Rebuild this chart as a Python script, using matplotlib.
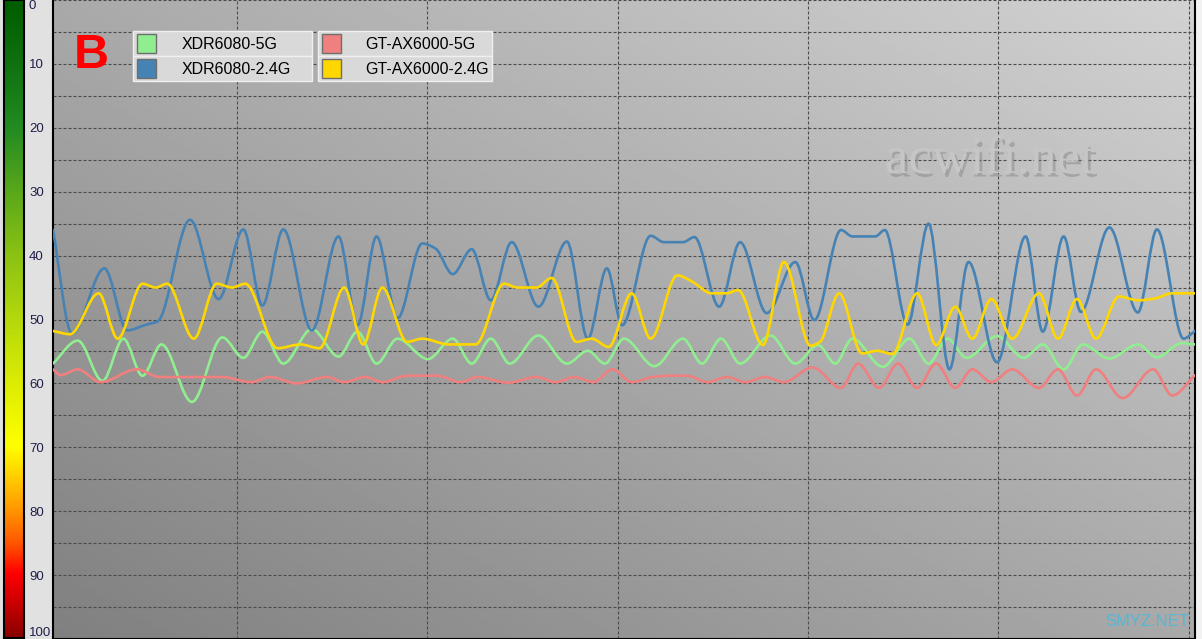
import numpy as np
import matplotlib.pyplot as plt
from matplotlib.path import Path
from matplotlib.patches import PathPatch, Rectangle
from matplotlib.colors import LinearSegmentedColormap
import matplotlib.patheffects as pe

# data (time in samples, value 0-100, axis inverted)
blue_t = [0, 1.0, 2.7, 3.9, 4.9, 5.5, 7.2, 8.7, 10.0, 11.0, 12.1, 13.6, 15.0, 16.0, 17.0, 18.1,
          19.4, 20.1, 21.0, 22.0, 23.0, 24.1, 25.5, 27.0, 28.1, 29.1, 29.9, 31.4, 32.1, 33.1,
          33.7, 35.0, 36.1, 37.5, 39.0, 40.0, 41.4, 42.0, 43.2, 43.7, 44.9, 46.0, 47.1, 48.1,
          49.6, 51.1, 52.0, 53.1, 54.0, 55.5, 57.0, 58.0, 59.4, 60.0]
blue_v = [36.0, 52.2, 42.0, 51.7, 50.8, 50.3, 34.4, 46.8, 35.9, 47.8, 35.9, 51.7, 37.0, 50.9, 37.0, 49.8,
          38.1, 38.9, 42.9, 39.0, 47.0, 37.9, 48.0, 37.8, 53.0, 42.0, 50.9, 36.9, 37.9, 37.9,
          37.1, 48.0, 37.9, 49.0, 41.0, 50.1, 36.0, 37.0, 37.0, 36.0, 50.8, 35.0, 57.8, 41.0,
          56.7, 37.0, 51.9, 37.0, 48.8, 35.6, 48.9, 35.9, 53.0, 51.8]

yellow_t = [0, 0.9, 2.4, 3.4, 4.7, 5.4, 6.0, 7.4, 8.6, 9.4, 10.1, 11.8, 13.0, 14.0, 15.3, 16.3,
            17.3, 18.6, 19.4, 20.8, 22.2, 23.7, 24.4, 25.4, 26.2, 27.5, 28.3, 29.2, 30.4, 31.4,
            32.8, 33.6, 34.6, 35.4, 36.0, 37.3, 38.4, 39.8, 40.3, 41.3, 42.5, 43.3, 44.1, 45.4,
            46.4, 47.4, 48.3, 49.3, 50.4, 51.8, 52.8, 53.8, 54.8, 56.0, 57.0, 57.9, 58.8, 60.0]
yellow_v = [51.8, 52.3, 45.9, 53.0, 44.4, 45.0, 44.4, 53.0, 44.4, 45.0, 44.4, 54.5, 53.9, 54.5, 45.0, 53.9,
            45.0, 53.5, 53.0, 53.9, 53.9, 44.4, 45.0, 45.0, 43.5, 53.5, 53.0, 54.3, 45.9, 53.0,
            43.1, 44.1, 45.9, 45.9, 45.4, 54.0, 41.0, 54.1, 53.5, 45.9, 55.3, 54.9, 55.4, 45.9,
            54.0, 48.0, 53.0, 46.8, 53.0, 45.9, 53.0, 46.8, 53.0, 46.4, 47.0, 46.7, 45.9, 45.9]

green_t = [0, 1.3, 2.6, 3.7, 4.7, 5.7, 7.3, 8.9, 10.0, 11.0, 12.1, 13.6, 15.0, 16.0, 17.0, 18.1,
           19.7, 21.0, 22.0, 23.0, 24.0, 25.5, 27.0, 28.1, 29.0, 30.0, 31.6, 33.1, 34.1, 35.1,
           36.1, 37.7, 39.0, 40.2, 41.1, 42.0, 43.6, 45.0, 46.0, 47.0, 48.0, 49.6, 51.0, 52.0,
           53.1, 54.1, 55.5, 57.0, 58.0, 59.3, 60.0]
green_v = [56.9, 53.3, 59.6, 53.0, 58.8, 53.9, 62.9, 52.8, 56.0, 51.9, 56.9, 51.5, 55.8, 51.9, 56.9, 53.0,
           56.2, 53.0, 56.9, 53.0, 56.9, 52.5, 56.9, 54.9, 56.9, 53.0, 57.3, 53.0, 56.9, 53.0,
           56.9, 52.5, 56.9, 54.0, 56.9, 53.0, 57.4, 53.0, 56.9, 53.0, 56.0, 52.6, 56.0, 53.9,
           57.8, 53.9, 56.1, 53.9, 55.9, 53.7, 53.9]

red_t = [0, 0.4, 1.3, 2.5, 4.4, 5.6, 8.9, 10.4, 11.4, 12.8, 14.4, 15.3, 16.4, 17.3, 18.6, 20.2,
         21.4, 22.3, 23.9, 25.4, 26.4, 27.4, 28.4, 29.4, 30.4, 31.5, 32.4, 33.3, 34.4, 35.4,
         36.4, 37.4, 38.4, 39.9, 41.4, 42.3, 43.4, 44.4, 45.4, 46.4, 47.4, 48.3, 49.3, 50.4,
         51.8, 52.8, 53.8, 54.8, 56.2, 57.8, 58.8, 60.0]
red_v = [57.8, 58.7, 57.8, 59.8, 57.8, 59.0, 59.0, 59.8, 59.0, 60.0, 59.0, 59.8, 59.0, 59.8, 58.8, 58.8,
         59.8, 59.0, 59.9, 59.0, 59.8, 59.0, 59.8, 57.8, 59.8, 59.0, 58.8, 58.8, 59.8, 59.0,
         59.8, 59.0, 59.8, 57.5, 60.7, 56.9, 60.7, 56.9, 60.7, 56.9, 60.7, 57.8, 59.8, 57.8,
         60.7, 57.8, 61.9, 57.8, 62.3, 57.8, 61.9, 58.7]

names = ['XDR6080-5G', 'XDR6080-2.4G', 'GT-AX6000-5G', 'GT-AX6000-2.4G']
colors = ['#90ee90', '#4682b4', '#f08080', '#ffd700']
scale_ticks = list(range(0, 101, 10))

W, H = 1202, 639
fig = plt.figure(figsize=(W / 100, H / 100), dpi=100, facecolor='#e1e1e1')


def fx(px):
    return px / W


def fy(py):
    return 1 - py / H


def smooth_path(x, y):
    # monotone cubic hermite drawn as bezier segments
    x = np.asarray(x, float)
    y = np.asarray(y, float)
    h = np.diff(x)
    d = np.diff(y) / h
    m = np.zeros_like(y)
    for k in range(1, len(y) - 1):
        if d[k - 1] * d[k] > 0:
            w1 = 2 * h[k] + h[k - 1]
            w2 = h[k] + 2 * h[k - 1]
            m[k] = (w1 + w2) / (w1 / d[k - 1] + w2 / d[k])
    m[0] = d[0]
    m[-1] = d[-1]
    verts = [(x[0], y[0])]
    codes = [Path.MOVETO]
    for k in range(len(x) - 1):
        verts += [(x[k] + h[k] / 3, y[k] + m[k] * h[k] / 3),
                  (x[k + 1] - h[k] / 3, y[k + 1] - m[k + 1] * h[k] / 3),
                  (x[k + 1], y[k + 1])]
        codes += [Path.CURVE4] * 3
    return Path(verts, codes)


rect = [fx(53), 0, fx(1195) - fx(53), 1]

# gradient background
bg = fig.add_axes(rect, zorder=0)
gx, gy = np.meshgrid(np.linspace(0, 1, 256), np.linspace(0, 1, 256))
shade = (128 + 41 * (gx + gy)) / 255
bg.imshow(shade, cmap='gray', vmin=0, vmax=1, origin='lower', aspect='auto',
          extent=[0, 1, 0, 1], interpolation='bilinear')
bg.axis('off')

ax = fig.add_axes(rect, zorder=1)
ax.set_facecolor('none')
ax.set_xlim(0, 60)
ax.set_ylim(100, 0)

ax.set_yticks(scale_ticks)
ax.set_yticklabels([str(v) for v in scale_ticks], fontsize=9.5,
                   family='Liberation Sans', color='#1e1e4a')
ax.set_yticks(range(5, 100, 10), minor=True)
ax.tick_params(axis='y', which='both', length=0, pad=17.3)
labels = ax.get_yticklabels()
for lbl in labels:
    lbl.set_horizontalalignment('left')
labels[0].set_verticalalignment('top')
labels[-1].set_verticalalignment('bottom')
ax.set_xticks([9.66 + 10 * k for k in range(6)])
ax.set_xticklabels([])
ax.tick_params(axis='x', length=0)
ax.grid(True, which='both', axis='both', color='#4a4a4a', lw=0.8, ls=(0, (2.7, 1.8)))
ax.grid(False, which='minor', axis='x')
ax.set_axisbelow(True)

for s in ['left', 'right', 'bottom']:
    ax.spines[s].set_color('black')
    ax.spines[s].set_linewidth(1.5)
ax.spines['top'].set_visible(False)

series = [(green_t, green_v), (blue_t, blue_v), (red_t, red_v), (yellow_t, yellow_v)]
for i, (t, v) in enumerate(series):
    ax.add_patch(PathPatch(smooth_path(t, v), fill=False, edgecolor=colors[i], lw=1.9,
                           capstyle='round', joinstyle='round', zorder=3))

# colour scale on the left
cmap = LinearSegmentedColormap.from_list('q', [
    (0.0, '#005c00'), (0.1, '#0f720f'), (0.2, '#228b22'), (0.3, '#5aa81a'),
    (0.4, '#8cc214'), (0.5, '#b4d80c'), (0.6, '#dcec04'), (0.7, '#ffff00'),
    (0.75, '#ffcc00'), (0.8, '#ff9600'), (0.85, '#ff5a00'), (0.9, '#ff0000'),
    (0.95, '#c80000'), (1.0, '#880000')])
cax = fig.add_axes([fx(4), fy(638), fx(24) - fx(4), fy(0) - fy(638)])
cax.imshow(np.linspace(0, 1, 256).reshape(-1, 1), cmap=cmap, aspect='auto',
           extent=[0, 1, 1, 0], vmin=0, vmax=1)
cax.set_xticks([])
cax.set_yticks([])
for s in cax.spines.values():
    s.set_linewidth(1.5)
    s.set_color('black')

# strip right of the plot
fig.patches.append(Rectangle((fx(1196), 0), 1 - fx(1196), 1, transform=fig.transFigure,
                             facecolor='#f2f2f2', edgecolor='none', zorder=0))

# legend boxes
fig.text(fx(91), fy(55), 'B', color='#ff0000', fontsize=35, fontweight='bold',
         family='Liberation Sans', ha='center', va='center', zorder=5)
boxes = [(133, 312), (318, 492)]
rows = [(31, 56), (56, 81)]
for c, (bx0, bx1) in enumerate(boxes):
    for r, (ry0, ry1) in enumerate(rows):
        idx = c * 2 + r
        fig.patches.append(Rectangle((fx(bx0), fy(ry1)), fx(bx1) - fx(bx0), fy(ry0) - fy(ry1),
                                     transform=fig.transFigure, facecolor='#d9d9d9',
                                     edgecolor='#f0f0f0', lw=1, zorder=4))
        fig.patches.append(Rectangle((fx(bx0 + 4), fy(ry0 + 22)), fx(19), fy(0) - fy(19),
                                     transform=fig.transFigure, facecolor=colors[idx],
                                     edgecolor='#6e6e6e', lw=1, zorder=5))
        tx = 182 if c == 0 else 365
        fig.text(fx(tx), fy((ry0 + ry1) / 2 + 1), names[idx], fontsize=11.5,
                 family='Liberation Sans', color='black', ha='left', va='center', zorder=6)

# watermarks
fig.text(fx(885), fy(173), 'acwifi.net', fontsize=38, family='Liberation Serif',
         color='#c6c6c6', ha='left', va='baseline', zorder=2,
         path_effects=[pe.SimplePatchShadow(offset=(2, -2.5), shadow_rgbFace='#808080', alpha=0.45),
                       pe.Normal()])
fig.text(fx(1105), fy(626), 'SMYZ.NET', fontsize=12, family='Liberation Sans',
         color='#52b8d6', ha='left', va='baseline', zorder=5)

fig.savefig('out.png', dpi=100, facecolor=fig.get_facecolor())
